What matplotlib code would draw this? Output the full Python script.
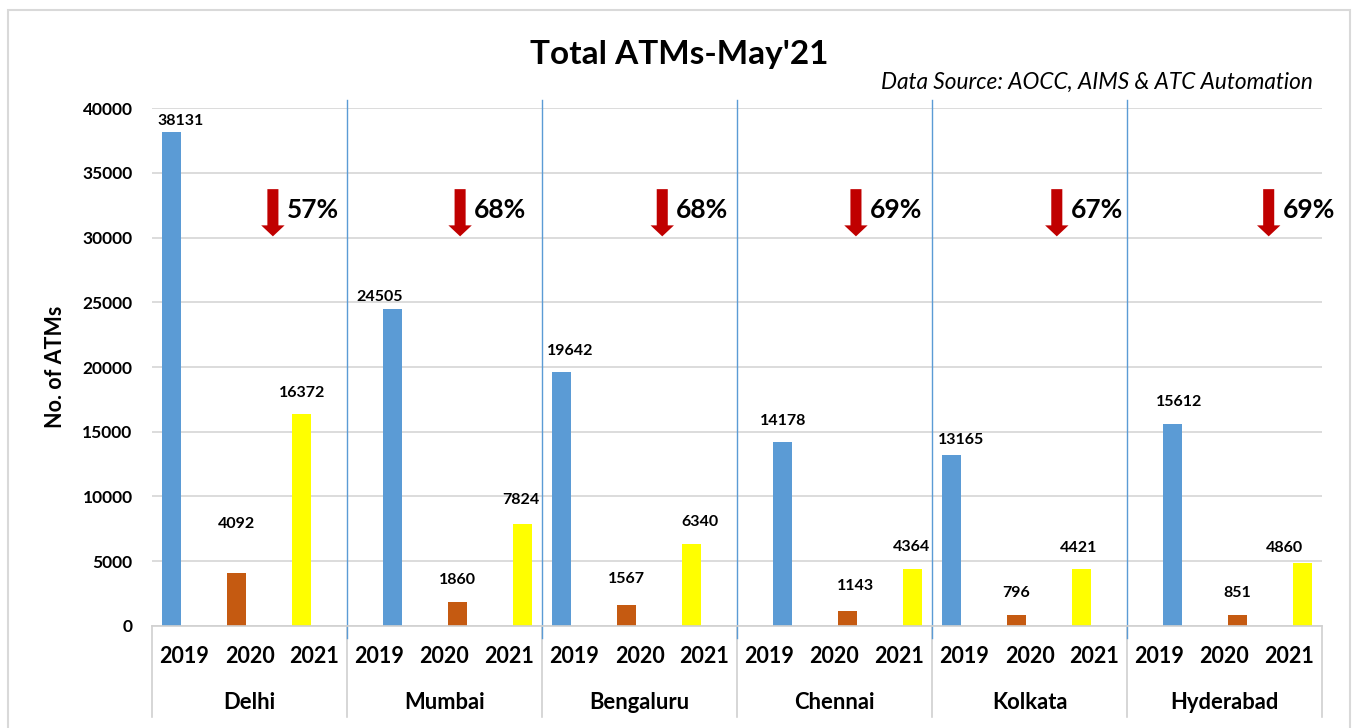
import matplotlib
matplotlib.use('Agg')
import matplotlib.pyplot as plt
import matplotlib.transforms as mtransforms
from matplotlib.patches import Rectangle

cities = ['Delhi', 'Mumbai', 'Bengaluru', 'Chennai', 'Kolkata', 'Hyderabad']
years = ['2019', '2020', '2021']
atm_2019 = [38131, 24505, 19642, 14178, 13165, 15612]
atm_2020 = [4092, 1860, 1567, 1143, 796, 851]
atm_2021 = [16372, 7824, 6340, 4364, 4421, 4860]
drop_pct = [57, 68, 68, 69, 67, 69]

# layout tweaks (pixels) for the hand-placed value labels, per city: 2019, 2020, 2021
label_shift = [
    [(9, 11), (0, 49), (1, 21)],
    [(-13, 12), (0, 22), (-2, 24)],
    [(9, 21), (0, 26), (8, 22)],
    [(1, 21), (8, 25), (-1, 22)],
    [(10, 15), (0, 22), (-3, 21)],
    [(7, 22), (0, 22), (-18, 15)],
]
arrow_pos = [1.86, 1.74, 1.85, 1.83, 1.92, 2.18]  # slot offset inside each city group

plt.rcParams['font.family'] = ['Lato', 'DejaVu Sans']

W, H = 1353, 728
fig = plt.figure(figsize=(W / 100, H / 100), dpi=100)
ax = fig.add_axes([152 / W, (H - 625.7) / H, 1170 / W, 517.4 / H])

series = [atm_2019, atm_2020, atm_2021]
colors = ['#5B9BD5', '#C55A11', '#FFFF00']

for g, city in enumerate(cities):
    shift = -0.2 if g % 2 == 0 else 0.2
    for k in range(3):
        x = g * 3 + k + 0.5 + shift
        v = series[k][g]
        ax.bar(x, v, width=0.29, color=colors[k], linewidth=0)
        dx, dy = label_shift[g][k]
        ax.annotate(str(v), (x, v), xytext=(dx, dy), textcoords='offset pixels',
                    ha='center', va='center', fontsize=11.5, fontweight='bold')

ax.set_xlim(0, 18)
ax.set_ylim(0, 40000)
ax.set_yticks(range(0, 40001, 5000))
ax.set_xticks([])
ax.tick_params(axis='y', length=0, pad=14, labelsize=12.5)
for lab in ax.get_yticklabels():
    lab.set_fontweight('bold')
ax.grid(axis='y', color='#D9D9D9', lw=1.3)
ax.set_axisbelow(True)
for s in ['left', 'right', 'top']:
    ax.spines[s].set_visible(False)
ax.spines['bottom'].set_color('#D0D0D0')
ax.spines['bottom'].set_linewidth(1.2)

ax.set_ylabel('No. of ATMs', fontsize=15.5, fontweight='bold')
ax.yaxis.set_label_coords(-0.0735, 0.5)

# category axis "table"
trans = mtransforms.blended_transform_factory(ax.transData, ax.transAxes)
for b in range(0, 19, 3):
    ax.plot([b, b], [0, -0.1765], transform=trans, color='#D0D0D0', lw=1.2, clip_on=False)
for i in range(18):
    ax.text(i + 0.5, -0.0586, years[i % 3], transform=trans, ha='center', va='center',
            fontsize=15.5, fontweight='bold')
for g, city in enumerate(cities):
    ax.text(g * 3 + 1.5, -0.1475, city, transform=trans, ha='center', va='center',
            fontsize=15.8, fontweight='bold')

# blue separators between cities
for b in range(3, 18, 3):
    ax.plot([b, b], [-950, 40650], color='#5B9BD5', lw=1, clip_on=False)

# drop arrows
for g, p in enumerate(drop_pct):
    x = g * 3 + arrow_pos[g]
    ax.arrow(x, 33750, 0, -3650, width=0.17, head_width=0.36, head_length=850,
             length_includes_head=True, color='#C00000', lw=0)
    ax.text(x + 0.215, 32100, f'{p}%', ha='left', va='center', fontsize=19, fontweight='bold')

fig.text(0.502, 0.9245, "Total ATMs-May'21", ha='center', va='center',
         fontsize=24, fontweight='bold')
fig.text(1313 / W, 0.887, 'Data Source: AOCC, AIMS & ATC Automation', ha='right',
         va='center', fontsize=16.3, style='italic')

fig.patches.append(Rectangle((8 / W, -0.01), 1342 / W, 0.9963, transform=fig.transFigure,
                             fill=False, edgecolor='#D9D9D9', lw=1.5))

fig.savefig('out.png', dpi=100)
